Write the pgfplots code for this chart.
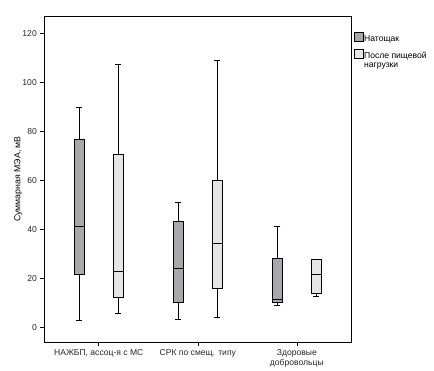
\documentclass[border=0pt]{standalone}
\usepackage{pgfplots}
\pgfplotsset{compat=1.18}
\usepackage{fontspec}
\setmainfont{Liberation Sans}
\definecolor{darkbox}{RGB}{168,168,172}
\definecolor{lightbox}{RGB}{229,229,229}
\pgfplotsset{sqlegend/.style={legend image code/.code={\draw[##1] (0bp,-2.3bp) rectangle (8.5bp,6.2bp);}}}
% #1 fill, #2 left, #3 centre, #4 right, #5 lower whisker, #6 Q1, #7 median, #8 Q3, #9 upper whisker
\newcommand{\bx}[9]{%
  \addplot[draw=black, fill=#1, line width=0.8bp, line join=miter] coordinates {(#2,#6) (#4,#6) (#4,#8) (#2,#8) (#2,#6)};
  \addplot[black, line width=0.8bp] coordinates {(#2,#7) (#4,#7)};
  \addplot[black, line width=0.8bp] coordinates {(#3,#8) (#3,#9)};
  \addplot[black, line width=0.8bp] coordinates {(#3,#5) (#3,#6)};
  \addplot[black, only marks, mark=-, mark size=3bp, mark options={line width=0.8bp}] coordinates {(#3,#5) (#3,#9)};
}
\begin{document}
\begin{tikzpicture}
\path (0bp,0bp) rectangle (434bp,371bp);
\begin{axis}[
  at={(44.3bp,29bp)}, anchor=south west,
  scale only axis, width=307bp, height=326bp,
  xmin=-0.55, xmax=2.55, ymin=-6.1, ymax=127.1,
  xtick={0,1,2},
  xticklabels={{НАЖБП, ассоц-я с МС},{СРК по смещ. типу},{\parbox[t]{80bp}{\centering Здоровые\\добровольцы}}},
  ytick={0,20,40,60,80,100,120},
  tick align=outside, xtick pos=bottom, ytick pos=left,
  major tick length=4bp,
  tick style={black, line width=0.6bp},
  axis line style={line width=0.8bp},
  /pgf/number format/assume math mode=true,
  tick label style={font=\fontsize{8.6}{10}\selectfont, text=black!85},
  ylabel={Суммарная МЭА, мВ},
  ylabel style={font=\fontsize{8.8}{10}\selectfont, at={(axis description cs:-0.085,0.5)}, anchor=center},
  legend style={draw=none, fill=none, at={(1.0098,0.95)}, anchor=north west,
    font=\fontsize{8.6}{9.5}\selectfont, row sep=6bp, inner sep=0pt, outer sep=0pt,
    nodes={inner sep=0.6bp}},
  legend cell align=left,
  clip=false,
]
\addlegendimage{sqlegend, fill=darkbox, draw=black, line width=0.8bp}
\addlegendentry{Натощак}
\addlegendimage{sqlegend, fill=lightbox, draw=black, line width=0.8bp}
\addlegendentry{\parbox[t]{64bp}{\raggedright После пищевой\\нагрузки}}

\bx{darkbox}{-0.249}{-0.197}{-0.145}{2.7}{21.4}{41.1}{76.7}{89.6}
\bx{lightbox}{0.145}{0.197}{0.249}{5.6}{12.1}{22.6}{70.6}{107.3}
\bx{darkbox}{0.751}{0.803}{0.855}{3.1}{10.1}{24.0}{43.2}{50.9}
\bx{lightbox}{1.145}{1.197}{1.249}{3.9}{15.9}{34.1}{59.9}{109.0}
\bx{darkbox}{1.751}{1.803}{1.855}{8.9}{10.1}{11.3}{28.1}{41.0}
\bx{lightbox}{2.145}{2.197}{2.249}{12.5}{13.8}{21.5}{27.6}{27.6}
\end{axis}
\end{tikzpicture}
\end{document}
